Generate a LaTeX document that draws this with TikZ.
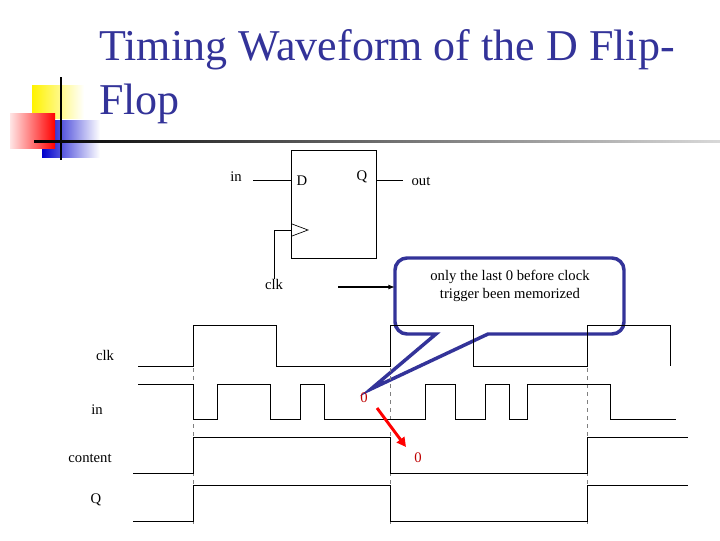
\documentclass[tikz,border=0pt]{standalone}
\usepackage{fontspec}
\setmainfont{Liberation Serif}
\usetikzlibrary{arrows.meta}
\definecolor{navy}{RGB}{51,51,153}
\begin{document}
\begin{tikzpicture}[x=0.75pt,y=-0.75pt,
  sig/.style={black,line width=0.75pt},
  guide/.style={gray,dashed,line width=0.5pt},
  lbl/.style={font=\fontsize{11}{12}\selectfont,inner sep=0pt},
  zero/.style={font=\fontsize{11}{12}\selectfont,text=red!75!black,inner sep=0pt}]
\useasboundingbox[fill=white] (0,0) rectangle (720,540);
% logo
\shade[left color=yellow!90!orange,right color=white] (32,85) rectangle (84,118);
\shade[left color=blue!80!black,right color=white] (42,120) rectangle (100,157);
\shade[left color=red!10,right color=red] (10,113) rectangle (55,148);
\draw[line width=1.5pt] (61,77) -- (61,160);
\shade[left color=black,right color=gray!30] (34,140) rectangle (720,142.5);
% title
\node[anchor=west,text=navy,font=\fontsize{33}{36}\selectfont,inner sep=0pt] (t1) at (99,50) {Timing Waveform of the D Flip-};
\node[anchor=west,text=navy,font=\fontsize{33}{36}\selectfont,inner sep=0pt] (t2) at (99,104) {Flop};
% flip-flop
\node[draw,line width=0.6pt,minimum width=85pt*0.75,minimum height=108pt*0.75,inner sep=0pt] (ff) at (334,204) {};
\node[lbl] (D) at (302,181) {D};
\node[lbl] (Qp) at (362,177) {Q};
\node[lbl] (in) at (236,177) {in};
\node[lbl] (out) at (421,181) {out};
\node[lbl] (clkff) at (274,284) {clk};
\coordinate (dpin) at (ff.west |- 0,180);
\coordinate (qpin) at (ff.east |- 0,180);
\draw[line width=0.6pt] (253,180) -- (dpin);
\draw[line width=0.6pt] (qpin) -- (403,180);
\draw[line width=0.5pt] (292,224) -- (308,230) -- (292,236);
\coordinate (ckpin) at (ff.west |- 0,230);
\draw[line width=0.6pt] (ckpin) -- (274,230) -- (clkff.north);
% callout
\draw[navy,line width=2.6pt,fill=white,line join=miter]
  (436,334) [rounded corners=9pt] -- (395,334) -- (395,258) -- (624,258) -- (624,334) [sharp corners] -- (488,334) -- (371,389) -- cycle;
\node[lbl,align=center,font=\fontsize{11}{14}\selectfont] (note) at (510,286) {only the last 0 before clock\\trigger been memorized};
\coordinate (arrS) at (338,287);
\draw[-{Latex[length=5pt]},line width=1.2pt] (arrS) -- (395,287);
% labels
\node[lbl] (lclk) at (105,355) {clk};
\node[lbl] (lin) at (97,410) {in};
\node[lbl] (lcont) at (90,458) {content};
\node[lbl] (lQ) at (96,500) {Q};
% guides
\foreach \x in {193,390,587} \draw[guide] (\x,368) -- (\x,527);
% clk
\draw[sig] (138,366) -- (193,366) -- (193,325) -- (276,325) -- (276,366) -- (390,366) -- (390,325) -- (473,325) -- (473,366) -- (587,366) -- (587,325) -- (670,325) -- (670,366);
% in
\draw[sig] (138,384) -- (193,384) -- (193,419) -- (217,419) -- (217,384) -- (270,384) -- (270,419) -- (300,419) -- (300,384) -- (324,384) -- (324,419) -- (425,419) -- (425,384) -- (455,384) -- (455,419) -- (485,419) -- (485,384) -- (509,384) -- (509,419) -- (527,419) -- (527,384) -- (610,384) -- (610,419) -- (676,419);
% content
\draw[sig] (133,473) -- (193,473) -- (193,437) -- (390,437) -- (390,473) -- (587,473) -- (587,437) -- (688,437);
% Q
\draw[sig] (133,521) -- (193,521) -- (193,485) -- (390,485) -- (390,521) -- (587,521) -- (587,485) -- (688,485);
% zeros
\node[zero] (z1) at (364,398) {0};
\node[zero] (z2) at (418,458) {0};
\draw[red,line width=2.2pt,-{Triangle[length=7pt,width=7pt]}] (377,408) -- (406,447);
\end{tikzpicture}
\end{document}
